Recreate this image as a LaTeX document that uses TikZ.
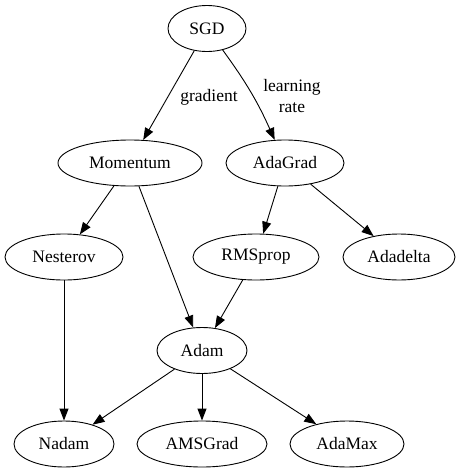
\documentclass[tikz,border=0pt]{standalone}
\usepackage{fontspec}
\setmainfont{Liberation Serif}
\usetikzlibrary{shapes.geometric,arrows.meta}
\begin{document}
\begin{tikzpicture}[x=1pt,y=-1pt,
  every node/.style={font=\fontsize{17.5}{21}\selectfont},
  nd/.style={draw,ellipse,inner sep=0pt,line width=0.9pt,minimum height=46pt},
  lbl/.style={align=center,inner sep=0pt},
  edge/.style={draw,line width=0.9pt,-{Triangle[length=12pt,width=9pt]}}]
\useasboundingbox (0,0) rectangle (464,472);
\node[nd,minimum width=78pt]  (sgd) at (207,28.5) {SGD};
\node[nd,minimum width=144pt] (mom) at (130,163) {Momentum};
\node[nd,minimum width=118pt] (adg) at (285,163) {AdaGrad};
\node[nd,minimum width=118pt] (nes) at (64,257) {Nesterov};
\node[nd,minimum width=126pt] (rms) at (256,257) {RMSprop};
\node[nd,minimum width=112pt] (add) at (399,257) {Adadelta};
\node[nd,minimum width=90pt]  (adam) at (202,350.5) {Adam};
\node[nd,minimum width=100pt] (nad) at (64,444) {Nadam};
\node[nd,minimum width=130pt] (ams) at (202,444) {AMSGrad};
\node[nd,minimum width=114pt] (amx) at (347,444) {AdaMax};
\node[lbl] (lg) at (209,97) {gradient};
\node[lbl] (llr) at (292,96) {learning\\rate};
\path[edge] (sgd) -- (mom);
\path[edge] (sgd) to[bend left=6] (adg);
\path[edge] (mom) -- (nes);
\path[edge] (mom) -- (adam);
\path[edge] (adg) -- (rms);
\path[edge] (adg) -- (add);
\path[edge] (rms) -- (adam);
\path[edge] (nes) -- (nad);
\path[edge] (adam) -- (nad);
\path[edge] (adam) -- (ams);
\path[edge] (adam) -- (amx);
\end{tikzpicture}
\end{document}
